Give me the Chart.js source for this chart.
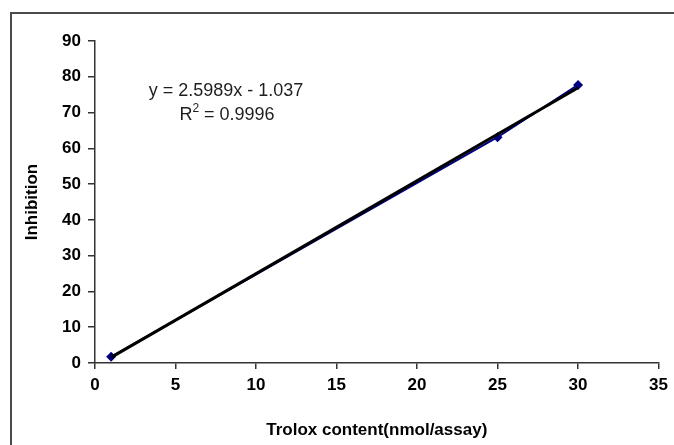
<!DOCTYPE html>
<html>
<head>
<meta charset="utf-8">
<script src="https://cdn.jsdelivr.net/npm/chart.js@4/dist/chart.umd.min.js"></script>
<style>
  html, body { margin: 0; padding: 0; background: #fff; overflow: hidden; }
  #wrap { position: relative; width: 674px; height: 445px; }
  #frame { position: absolute; left: 10px; top: 12px; width: 700px; height: 500px; border: 2px solid #4a4a4a; box-sizing: border-box; }
  canvas { position: absolute; left: 0; top: 0; }
</style>
</head>
<body>
<div id="wrap">
  <div id="frame"></div>
  <canvas id="chart" width="674" height="445"></canvas>
</div>
<script>
// measured points
const troloxX = [1, 25, 30];
const inhibitionY = [1.73, 63.1, 77.73];

// fitted trendline shown on the chart
const slope = 2.5989;
const intercept = -1.037;
const rSquared = 0.9996;

const xTicks = [0, 5, 10, 15, 20, 25, 30, 35];
const yTicks = [0, 10, 20, 30, 40, 50, 60, 70, 80, 90];

const points = troloxX.map((x, i) => ({ x: x, y: inhibitionY[i] }));
const xFirst = troloxX[0];
const xLast = troloxX[troloxX.length - 1];
const trend = [
  { x: xFirst, y: slope * xFirst + intercept },
  { x: xLast, y: slope * xLast + intercept }
];

const tickFont = { family: 'Liberation Sans, Arial, sans-serif', size: 17, weight: 'bold' };
const titleFont = { family: 'Liberation Sans, Arial, sans-serif', size: 17, weight: 'bold' };

// equation label, drawn like the spreadsheet's trendline label
const equationLabel = {
  id: 'equationLabel',
  afterDatasetsDraw(chart) {
    const ctx = chart.ctx;
    ctx.save();
    ctx.fillStyle = '#1e1e1e';
    ctx.font = '18px Liberation Sans, Arial, sans-serif';
    ctx.textAlign = 'center';
    ctx.textBaseline = 'alphabetic';
    const sign = intercept < 0 ? '-' : '+';
    ctx.fillText('y = ' + slope + 'x ' + sign + ' ' + Math.abs(intercept), 226, 96);

    const rest = ' = ' + rSquared;
    const wR = ctx.measureText('R').width;
    const wRest = ctx.measureText(rest).width;
    ctx.font = '12px Liberation Sans, Arial, sans-serif';
    const wSup = ctx.measureText('2').width;
    const total = wR + wSup + wRest;
    let x0 = 227 - total / 2;
    ctx.textAlign = 'left';
    ctx.font = '18px Liberation Sans, Arial, sans-serif';
    ctx.fillText('R', x0, 120);
    ctx.font = '12px Liberation Sans, Arial, sans-serif';
    ctx.fillText('2', x0 + wR, 112);
    ctx.font = '18px Liberation Sans, Arial, sans-serif';
    ctx.fillText(rest, x0 + wR + wSup, 120);
    ctx.restore();
  }
};

new Chart(document.getElementById('chart'), {
  type: 'scatter',
  data: {
    datasets: [
      {
        label: 'Trendline',
        data: trend,
        showLine: true,
        borderColor: '#000',
        borderWidth: 3,
        pointRadius: 0,
        order: 1
      },
      {
        label: 'Inhibition',
        data: points,
        showLine: true,
        borderColor: '#000080',
        borderWidth: 2,
        backgroundColor: '#000080',
        pointStyle: 'rectRot',
        pointRadius: 5,
        pointBorderWidth: 0,
        order: 2
      }
    ]
  },
  options: {
    responsive: false,
    animation: false,
    layout: { padding: { left: 22, top: 41, right: 15, bottom: 0 } },
    plugins: {
      legend: { display: false },
      tooltip: { enabled: false }
    },
    scales: {
      x: {
        type: 'linear',
        min: 0,
        max: 35,
        afterBuildTicks: s => { s.ticks = xTicks.map(v => ({ value: v })); },
        afterFit: s => { s.height = 82; },
        border: { color: '#333', width: 1.5 },
        grid: { drawOnChartArea: false, tickLength: 6, color: '#333', lineWidth: 1.5 },
        ticks: { color: '#000', font: tickFont, padding: 6, maxRotation: 0 },
        title: { display: true, text: 'Trolox content(nmol/assay)', color: '#000', font: titleFont, padding: { top: 12 } }
      },
      y: {
        type: 'linear',
        min: 0,
        max: 90,
        afterBuildTicks: s => { s.ticks = yTicks.map(v => ({ value: v })); },
        afterFit: s => { s.width = 73; },
        border: { color: '#333', width: 1.5 },
        grid: { drawOnChartArea: false, tickLength: 7, color: '#333', lineWidth: 1.5 },
        ticks: { color: '#000', font: tickFont, padding: 7 },
        title: { display: true, text: 'Inhibition', color: '#000', font: titleFont, padding: { top: 0, bottom: 4 } }
      }
    }
  },
  plugins: [equationLabel]
});
</script>
</body>
</html>
